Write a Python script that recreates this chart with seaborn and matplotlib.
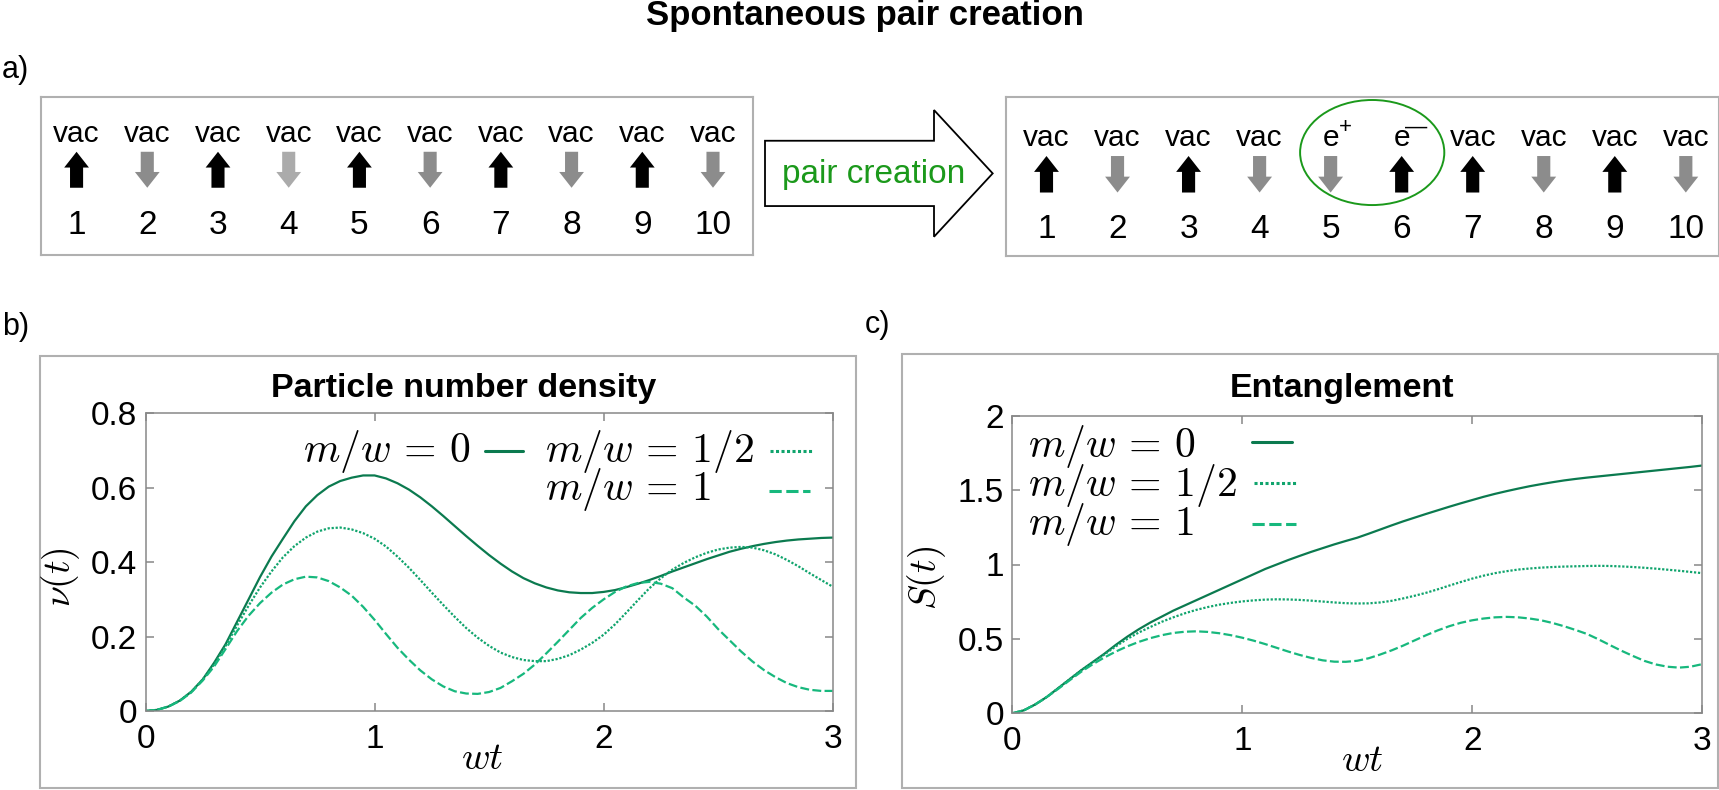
import numpy as np
import pandas as pd
import matplotlib
matplotlib.use('Agg')
import matplotlib.pyplot as plt
import seaborn as sns
from matplotlib.patches import Rectangle, Ellipse, FancyArrow
from matplotlib.lines import Line2D

# ---------------- values ----------------
wt = [0.0, 0.05, 0.1, 0.15, 0.2, 0.25, 0.3, 0.35, 0.4, 0.45,
      0.5, 0.55, 0.6, 0.65, 0.7, 0.75, 0.8, 0.85, 0.9, 0.95,
      1.0, 1.05, 1.1, 1.15, 1.2, 1.25, 1.3, 1.35, 1.4, 1.45,
      1.5, 1.55, 1.6, 1.65, 1.7, 1.75, 1.8, 1.85, 1.9, 1.95,
      2.0, 2.05, 2.1, 2.15, 2.2, 2.25, 2.3, 2.35, 2.4, 2.45,
      2.5, 2.55, 2.6, 2.65, 2.7, 2.75, 2.8, 2.85, 2.9, 2.95, 3.0]

# particle number density nu(t)
nu_m0 = [0.0, 0.003, 0.012, 0.028, 0.052, 0.085, 0.13, 0.18, 0.24, 0.30,
         0.36, 0.415, 0.463, 0.51, 0.55, 0.58, 0.603, 0.618, 0.627, 0.633,
         0.633, 0.625, 0.612, 0.595, 0.574, 0.55, 0.524, 0.497, 0.47, 0.444,
         0.419, 0.396, 0.375, 0.357, 0.343, 0.332, 0.324, 0.319, 0.317, 0.317,
         0.32, 0.325, 0.333, 0.342, 0.352, 0.363, 0.375, 0.386, 0.397, 0.408,
         0.418, 0.428, 0.436, 0.443, 0.449, 0.454, 0.458, 0.461, 0.463, 0.465, 0.466]
nu_m05 = [0.0, 0.003, 0.012, 0.028, 0.051, 0.085, 0.125, 0.175, 0.23, 0.283,
          0.332, 0.375, 0.413, 0.443, 0.466, 0.482, 0.491, 0.493, 0.488, 0.478,
          0.463, 0.442, 0.415, 0.385, 0.352, 0.318, 0.285, 0.253, 0.223, 0.197,
          0.175, 0.157, 0.145, 0.137, 0.134, 0.134, 0.14, 0.15, 0.165, 0.183,
          0.205, 0.233, 0.265, 0.298, 0.33, 0.357, 0.38, 0.398, 0.413, 0.425,
          0.434, 0.439, 0.441, 0.439, 0.432, 0.421, 0.406, 0.389, 0.37, 0.352, 0.334]
nu_m1 = [0.0, 0.003, 0.012, 0.027, 0.05, 0.082, 0.12, 0.167, 0.215, 0.256,
         0.29, 0.318, 0.34, 0.354, 0.361, 0.359, 0.349, 0.332, 0.31, 0.28,
         0.245, 0.207, 0.17, 0.138, 0.109, 0.085, 0.066, 0.053, 0.047, 0.046,
         0.051, 0.062, 0.08, 0.1, 0.125, 0.155, 0.186, 0.218, 0.25, 0.277,
         0.3, 0.32, 0.335, 0.344, 0.347, 0.342, 0.33, 0.305, 0.283, 0.254,
         0.22, 0.19, 0.16, 0.133, 0.11, 0.091, 0.075, 0.064, 0.057, 0.054, 0.054]

# entanglement S(t)
S_m0 = [0.0, 0.02, 0.06, 0.11, 0.17, 0.23, 0.29, 0.345, 0.40, 0.46,
        0.515, 0.565, 0.61, 0.65, 0.69, 0.725, 0.76, 0.795, 0.83, 0.865,
        0.90, 0.935, 0.97, 1.0, 1.03, 1.058, 1.085, 1.11, 1.135, 1.158,
        1.18, 1.207, 1.235, 1.263, 1.29, 1.315, 1.34, 1.364, 1.388, 1.411,
        1.433, 1.455, 1.475, 1.493, 1.51, 1.526, 1.54, 1.553, 1.565, 1.575,
        1.584, 1.592, 1.6, 1.608, 1.616, 1.624, 1.632, 1.64, 1.648, 1.656, 1.665]
S_m05 = [0.0, 0.02, 0.06, 0.11, 0.17, 0.23, 0.29, 0.343, 0.395, 0.45,
         0.50, 0.543, 0.58, 0.615, 0.645, 0.672, 0.695, 0.714, 0.73, 0.742,
         0.752, 0.759, 0.764, 0.766, 0.765, 0.762, 0.757, 0.751, 0.745, 0.74,
         0.738, 0.739, 0.745, 0.756, 0.772, 0.79, 0.81, 0.833, 0.858, 0.882,
         0.905, 0.925, 0.942, 0.955, 0.966, 0.973, 0.979, 0.983, 0.986, 0.988,
         0.99, 0.991, 0.99, 0.987, 0.983, 0.978, 0.972, 0.965, 0.958, 0.95, 0.942]
S_m1 = [0.0, 0.02, 0.06, 0.11, 0.165, 0.223, 0.28, 0.33, 0.375, 0.415,
        0.45, 0.48, 0.505, 0.525, 0.54, 0.548, 0.551, 0.547, 0.538, 0.525,
        0.508, 0.488, 0.465, 0.44, 0.415, 0.392, 0.372, 0.356, 0.347, 0.346,
        0.353, 0.37, 0.395, 0.423, 0.455, 0.49, 0.525, 0.557, 0.585, 0.608,
        0.625, 0.637, 0.645, 0.648, 0.645, 0.637, 0.625, 0.607, 0.585, 0.56,
        0.533, 0.497, 0.458, 0.42, 0.385, 0.352, 0.328, 0.313, 0.307, 0.313, 0.33]

series_labels = [r'$m/w\,=\,0$', r'$m/w\,=\,1/2$', r'$m/w\,=\,1$']

wt_ticks = [0, 1, 2, 3]
nu_ticks = [0, 0.2, 0.4, 0.6, 0.8]
nu_ticklabels = ['0', '0.2', '0.4', '0.6', '0.8']
S_ticks = [0, 0.5, 1, 1.5, 2]
S_ticklabels = ['0', '0.5', '1', '1.5', '2']

# spin chain (panel a)
sites = [1, 2, 3, 4, 5, 6, 7, 8, 9, 10]
spins_before = [1, -1, 1, -1, 1, -1, 1, -1, 1, -1]
spins_after = [1, -1, 1, -1, -1, 1, 1, -1, 1, -1]
labels_before = ['vac'] * 10
labels_after = ['vac', 'vac', 'vac', 'vac', 'e', 'e', 'vac', 'vac', 'vac', 'vac']
charges_after = ['', '', '', '', '+', '\u2014', '', '', '', '']
pair_sites = [5, 6]

# ---------------- style ----------------
sns.set_theme(style='white')
plt.rcParams['font.family'] = ['Liberation Sans', 'DejaVu Sans']
plt.rcParams['mathtext.fontset'] = 'cm'
plt.rcParams['text.color'] = 'black'
plt.rcParams['axes.labelcolor'] = 'black'

dark_green = '#0b7a4f'
mid_green = '#10a46d'
light_green = '#17b87d'
line_colours = [dark_green, mid_green, light_green]
line_styles = ['-', (0, (1, 0.8)), (0, (4, 1.5))]
up_col = 'black'
down_col = '#8c8c8c'
pale_col = '#ababab'
frame_col = '#b0b0b0'
axis_col = '#888888'
pair_green = '#1b991b'

W, H = 1719, 790
fig = plt.figure(figsize=(W / 100, H / 100), dpi=100)


def frac(l, t, r, b):
    # pixel box -> figure fraction
    return [l / W, 1 - b / H, (r - l) / W, (b - t) / H]


# background layer in pixel units for frames / decorations
bg = fig.add_axes([0, 0, 1, 1])
bg.set_xlim(0, W)
bg.set_ylim(H, 0)
bg.axis('off')

bg.add_patch(Rectangle((39.5, 355.7), 816, 432, fill=False, ec=frame_col, lw=1.5))
bg.add_patch(Rectangle((902, 354), 815.5, 434, fill=False, ec=frame_col, lw=1.5))
bg.add_patch(FancyArrow(765, 173.4, 227.7, 0, width=65.3, head_width=126.7,
                        head_length=58.7, length_includes_head=True,
                        fc='white', ec='black', lw=1.3))
bg.text(874, 183, 'pair creation', color=pair_green, ha='center', va='baseline', fontsize=24)

fig.text(864.5 / W, 1 - 25 / H, 'Spontaneous pair creation', ha='center', va='baseline',
         fontsize=25, fontweight='bold')
fig.text(0.001, 1 - 78 / H, 'a)', ha='left', va='baseline', fontsize=22)
fig.text(0.001, 1 - 335 / H, 'b)', ha='left', va='baseline', fontsize=22)
fig.text(865 / W, 1 - 333 / H, 'c)', ha='left', va='baseline', fontsize=22)


# ---------------- panel a: spin chains ----------------
def spin_box(rect, xlim, spins, labels, colours, text_y, num_y, arrow_y, charges=None):
    ax = fig.add_axes(frac(*rect))
    ax.set_xlim(*xlim)
    ax.set_ylim(0, 1)
    ax.set_xticks([])
    ax.set_yticks([])
    for s in ax.spines.values():
        s.set_color(frame_col)
        s.set_linewidth(1.5)
    lo, hi = arrow_y
    for i, (site, spin, lab, col) in enumerate(zip(sites, spins, labels, colours)):
        start = lo if spin > 0 else hi
        ax.add_patch(FancyArrow(site, start, 0, (hi - lo) * spin, width=0.185, head_width=0.35,
                                head_length=0.10, length_includes_head=True, color=col, lw=0))
        ax.text(site, text_y, lab, ha='center', va='baseline', fontsize=21.5)
        if charges and charges[i]:
            ax.annotate(charges[i], xy=(site, text_y), xytext=(10.5, 13.5),
                        textcoords='offset points', ha='center', va='center', fontsize=16)
        ax.text(site, num_y, str(site), ha='center', va='baseline', fontsize=24)
    return ax


cols_before = [up_col if s > 0 else down_col for s in spins_before]
cols_before[3] = pale_col
cols_after = [up_col if s > 0 else down_col for s in spins_after]

axA = spin_box((40.5, 96.7, 752.6, 254.5), (0.49, 10.56), spins_before, labels_before,
               cols_before, 0.712, 0.132, (0.423, 0.651))
axA2 = spin_box((1006, 97.3, 1718.5, 256), (0.43, 10.46), spins_after, labels_after,
                cols_after, 0.692, 0.115, (0.40, 0.63), charges_after)
axA2.add_patch(Ellipse((np.mean(pair_sites) + 0.085, 0.652), 2.03, 0.662,
                       fill=False, ec=pair_green, lw=1.4))


# ---------------- panels b and c ----------------
def curve_panel(rect, series, ylim, yticks, yticklabels, ylabel, title, title_pos,
                xlabel_pos, ylabel_pos):
    ax = fig.add_axes(frac(*rect))
    for y, col, ls in zip(series, line_colours, line_styles):
        sns.lineplot(x=wt, y=y, ax=ax, color=col, linestyle=ls, linewidth=1.6)
    ax.set_xlim(0, 3)
    ax.set_ylim(*ylim)
    ax.set_xticks(wt_ticks)
    ax.set_xticklabels([str(t) for t in wt_ticks])
    ax.set_yticks(yticks)
    ax.set_yticklabels(yticklabels)
    ax.tick_params(direction='in', length=5.5, width=1.1, color=axis_col,
                   bottom=True, left=True, top=True, right=True,
                   labelsize=24, labelcolor='black')
    ax.tick_params(axis='x', pad=9)
    ax.tick_params(axis='y', pad=6)
    for s in ax.spines.values():
        s.set_color(axis_col)
        s.set_linewidth(1.1)
    ax.set_xlabel(r'$wt$', fontsize=28)
    ax.xaxis.set_label_coords(*xlabel_pos)
    ax.set_ylabel(ylabel, fontsize=27)
    ax.yaxis.set_label_coords(*ylabel_pos)
    ax.text(title_pos[0], title_pos[1], title, transform=ax.transAxes, ha='center',
            va='baseline', fontsize=24.5, fontweight='bold')
    return ax


def key(ax, text_xy, line_x, line_y, label, col, ls):
    # gnuplot-style key: label left, line sample on the right
    ax.text(text_xy[0], text_xy[1], label, transform=ax.transAxes, ha='left',
            va='baseline', fontsize=30)
    ax.add_line(Line2D(line_x, [line_y, line_y], transform=ax.transAxes, color=col,
                       linestyle=ls, linewidth=2.2, clip_on=False))


axB = curve_panel((145.5, 413.3, 832.7, 711), [nu_m0, nu_m05, nu_m1], (0, 0.8),
                  nu_ticks, nu_ticklabels, r'$\nu(t)$', 'Particle number density',
                  (0.463, 1.056), (0.49, -0.10), (-0.092, 0.45))
key(axB, (0.2288, 0.8364), (0.4940, 0.5493), 0.8734, series_labels[0], line_colours[0], line_styles[0])
key(axB, (0.5813, 0.8364), (0.9088, 0.9699), 0.8734, series_labels[1], line_colours[1], line_styles[1])
key(axB, (0.5813, 0.7088), (0.9073, 0.9670), 0.7400, series_labels[2], line_colours[2], line_styles[2])

axC = curve_panel((1012.4, 415.7, 1702, 713.3), [S_m0, S_m05, S_m1], (0, 2),
                  S_ticks, S_ticklabels, r'$S(t)$', 'Entanglement',
                  (0.478, 1.063), (0.507, -0.10), (-0.093, 0.455))
key(axC, (0.0226, 0.8612), (0.3477, 0.4057), 0.9116, series_labels[0], line_colours[0], line_styles[0])
key(axC, (0.0226, 0.7302), (0.3506, 0.4144), 0.7739, series_labels[1], line_colours[1], line_styles[1])
key(axC, (0.0226, 0.5991), (0.3477, 0.4115), 0.6361, series_labels[2], line_colours[2], line_styles[2])

fig.savefig('out.png', dpi=100)
